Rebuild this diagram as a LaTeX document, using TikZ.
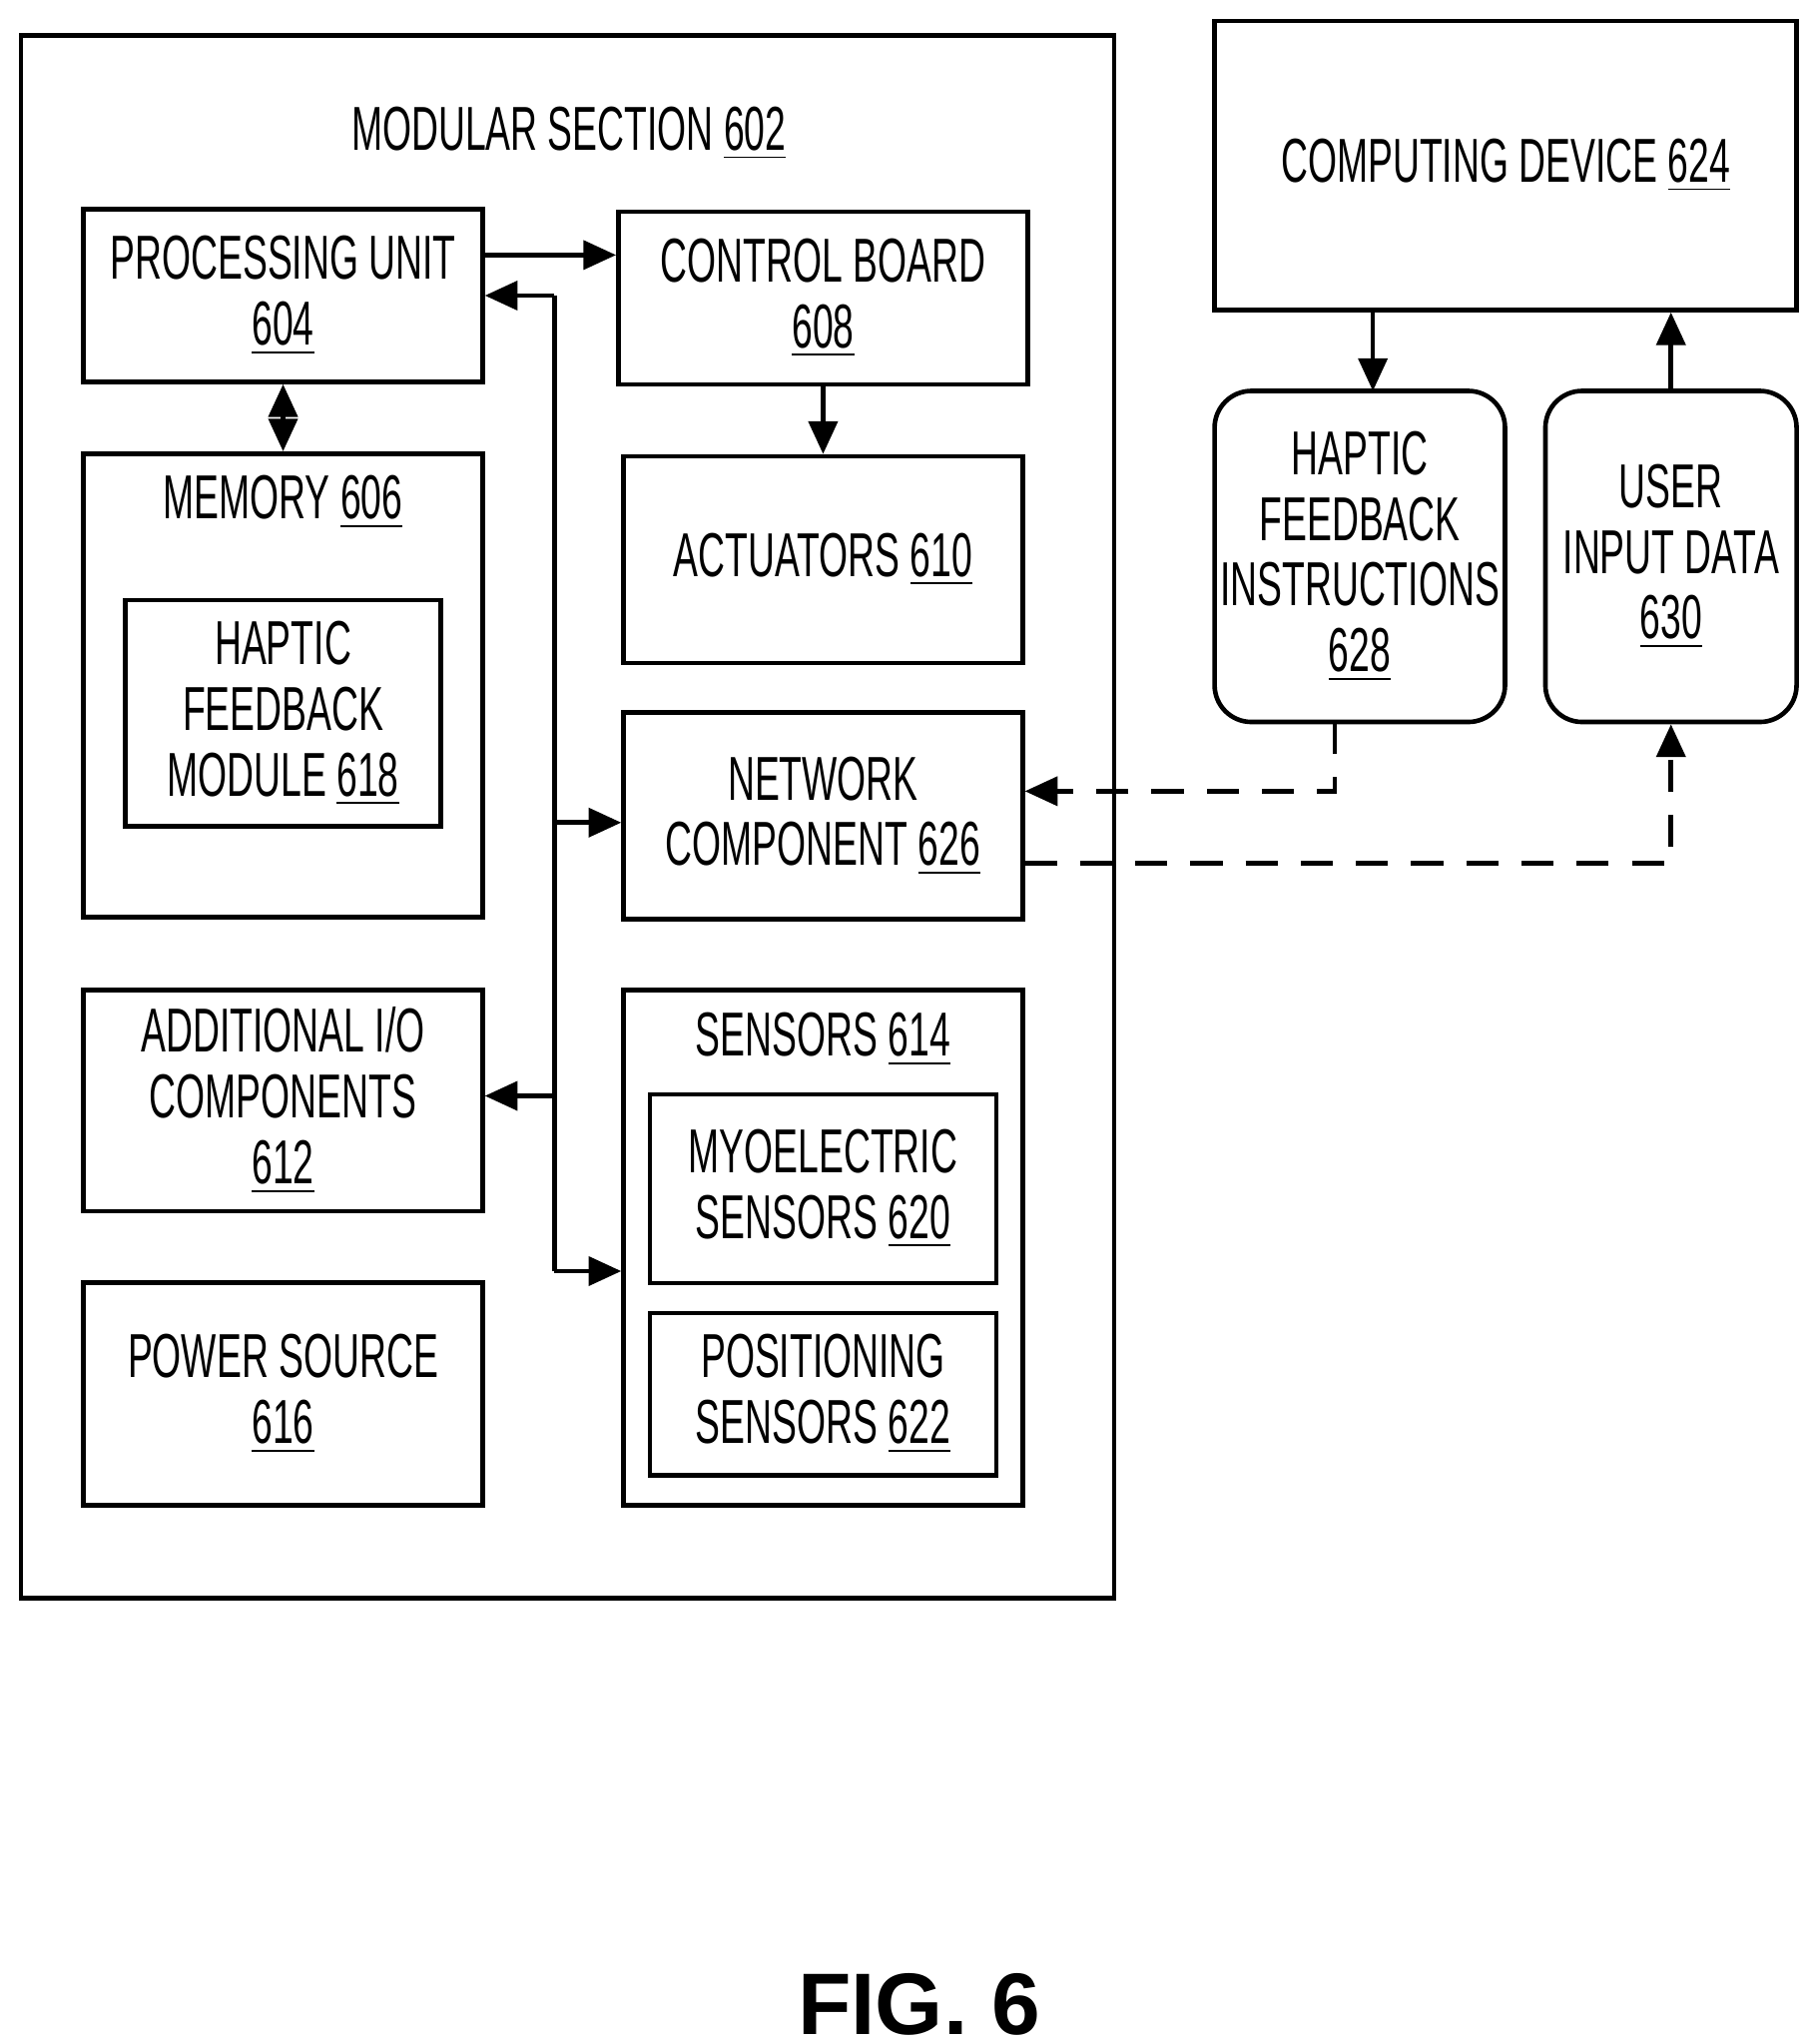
\documentclass[tikz,border=0pt]{standalone}
\usepackage{fontspec}
\setmainfont{Liberation Sans}[FakeStretch=0.6]
\newfontfamily\figfont{Liberation Sans}
\usetikzlibrary{positioning, arrows.meta, calc}
\newcommand{\num}[1]{\underline{#1}}

\begin{document}
\begin{tikzpicture}[x=0.01cm, y=-0.01cm,
    % Node styles
    box/.style={
        rectangle,
        draw=black,
        line width=1pt,
        font=\fontsize{13.5}{14.3}\selectfont,
        align=center,
        inner sep=0pt
    },
    rbox/.style={
        box,
        rounded corners=8pt
    },
    boxlabel/.style={
        font=\fontsize{13.5}{14.3}\selectfont,
        align=center,
        inner sep=0pt
    },
    arrow/.style={
        -{Triangle[length=2.5mm, width=2.2mm]},
        line width=1pt
    },
    dblarrow/.style={
        {Triangle[length=2.5mm, width=2.2mm]}-{Triangle[length=2.5mm, width=2.2mm]},
        line width=1pt
    },
    dashedarrow/.style={
        arrow,
        dashed, dash pattern=on 7pt off 5pt
    }
]
    \useasboundingbox (0,0) rectangle (1386,1563);

    % ==== MODULAR SECTION ====
    \draw[line width=1pt] (16,27) rectangle (852,1222);
    \node[boxlabel] (modlabel) at (435,102) {MODULAR SECTION \num{602}};

    \node[box, minimum width=3.05cm, minimum height=1.32cm] (pu) at (216.5,226) {PROCESSING UNIT\\\num{604}};
    \node[box, minimum width=3.13cm, minimum height=1.32cm] (cb) at (629.5,228) {CONTROL BOARD\\\num{608}};
    \node[box, minimum width=3.05cm, minimum height=3.54cm] (mem) at (216.5,524) {};
    \node[boxlabel] (memlabel) at (216.5,384) {MEMORY \num{606}};
    \node[box, minimum width=2.41cm, minimum height=1.73cm] (hfm) at (216.5,545.5) {HAPTIC\\FEEDBACK\\MODULE \num{618}};
    \node[box, minimum width=3.05cm, minimum height=1.58cm] (act) at (629.5,428) {ACTUATORS \num{610}};
    \node[box, minimum width=3.05cm, minimum height=1.58cm] (net) at (629.5,624) {NETWORK\\COMPONENT \num{626}};
    \node[box, minimum width=3.05cm, minimum height=1.69cm] (io) at (216.5,841.5) {ADDITIONAL I/O\\COMPONENTS\\\num{612}};
    \node[box, minimum width=3.05cm, minimum height=3.94cm] (sens) at (629.5,954) {};
    \node[boxlabel] (senslabel) at (629.5,795) {SENSORS \num{614}};
    \node[box, minimum width=2.65cm, minimum height=1.44cm] (myo) at (629.5,909) {MYOELECTRIC\\SENSORS \num{620}};
    \node[box, minimum width=2.65cm, minimum height=1.24cm] (pos) at (629.5,1066) {POSITIONING\\SENSORS \num{622}};
    \node[box, minimum width=3.05cm, minimum height=1.70cm] (pwr) at (216.5,1066) {POWER SOURCE\\\num{616}};

    % ==== COMPUTING DEVICE ====
    \node[box, minimum width=4.45cm, minimum height=2.21cm] (comp) at (1151.5,126.5) {COMPUTING DEVICE \num{624}};
    \node[rbox, minimum width=2.22cm, minimum height=2.53cm] (hfi) at (1040,425.5) {HAPTIC\\FEEDBACK\\INSTRUCTIONS\\\num{628}};
    \node[rbox, minimum width=1.92cm, minimum height=2.53cm] (uid) at (1278,425.5) {USER\\INPUT DATA\\\num{630}};

    \node[font=\figfont\bfseries\fontsize{19}{21}\selectfont] (fig) at (703,1533) {FIG. 6};

    % ==== CONNECTIONS ====
    \coordinate (bustop) at (424,226);
    \coordinate (busbot) at (424,972);
    \coordinate (hfiin) at (1050,299);
    \coordinate (hfiout) at (1021,552);
    \draw[arrow] (pu.east |- 0,195) -- (cb.west |- 0,195);
    \draw[arrow] (cb) -- (act);
    \draw[dblarrow] (pu) -- (mem);
    \draw[line width=1pt] (bustop) -- (busbot);
    \draw[arrow] (bustop) -- (pu.east |- bustop);
    \draw[arrow] (bustop |- 0,629) -- (net.west |- 0,629);
    \draw[arrow] (bustop |- 0,838) -- (io.east |- 0,838);
    \draw[arrow] (busbot) -- (sens.west |- busbot);

    \draw[arrow] (comp.south -| hfiin) -- (hfiin);
    \draw[arrow] (uid.north) -- (uid.north |- comp.south);
    \draw[dashedarrow] (hfiout) |- (net.east |- 0,605);
    \draw[dashedarrow] (net.east |- 0,660) -| (uid.south);
\end{tikzpicture}
\end{document}
